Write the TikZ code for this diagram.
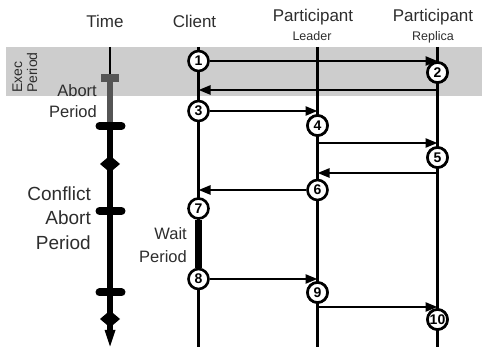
\documentclass[tikz,border=0pt]{standalone}
\usepackage{fontspec}
\setmainfont{Liberation Sans}
\usetikzlibrary{arrows.meta}
\definecolor{bandgray}{RGB}{205,205,205}
\definecolor{abortgray}{RGB}{85,85,85}
\definecolor{txt}{RGB}{45,45,45}
\tikzset{
  lbl/.style={inner sep=0pt, text=txt},
  hdr/.style={lbl, anchor=base, font=\fontsize{17}{20}\selectfont},
  sub/.style={lbl, anchor=base, font=\fontsize{12.5}{14}\selectfont},
  lifeline/.style={line width=2.6pt},
  msg/.style={line width=2.4pt, -{Triangle[length=12pt,width=9pt]}},
  evt/.style={circle, draw, line width=2.6pt, fill=white, minimum size=20pt,
              inner sep=0pt, font=\fontsize{14}{14}\selectfont\bfseries},
  tick/.style={line width=8pt, line cap=round},
}
\begin{document}
\begin{tikzpicture}[x=1pt,y=-1pt]
\useasboundingbox (0,0) rectangle (482,347);

% execution period band
\fill[bandgray] (6,47) rectangle (482,96.5);

% column headings
\node[hdr] (hTime) at (105,28) {Time};
\node[hdr] (hClient) at (194.5,28) {Client};
\node[hdr] (hLead) at (313,21.5) {Participant};
\node[sub] (hLeadSub) at (312,40.5) {Leader};
\node[hdr] (hRep) at (433,21.5) {Participant};
\node[sub] (hRepSub) at (433,41) {Replica};

% period labels
\node[lbl, rotate=90, anchor=base west, font=\fontsize{14}{16}\selectfont] (lExec) at (22,93) {Exec};
\node[lbl, rotate=90, anchor=base west, font=\fontsize{14}{16}\selectfont] (lExecP) at (37,93) {Period};
\node[lbl, anchor=base east, font=\fontsize{16.5}{20}\selectfont] (lAb1) at (97,96.5) {Abort};
\node[lbl, anchor=base east, font=\fontsize{16.5}{20}\selectfont] (lAb2) at (97,118) {Period};
\node[lbl, anchor=base east, font=\fontsize{19}{22}\selectfont] (lCf1) at (91,201) {Conflict};
\node[lbl, anchor=base east, font=\fontsize{19}{22}\selectfont] (lCf2) at (91,225) {Abort};
\node[lbl, anchor=base east, font=\fontsize{19}{22}\selectfont] (lCf3) at (91,250) {Period};
\node[lbl, anchor=base east, font=\fontsize{16.5}{20}\selectfont] (lW1) at (187,240) {Wait};
\node[lbl, anchor=base east, font=\fontsize{16.5}{20}\selectfont] (lW2) at (187,263) {Period};

% time axis
\draw[line width=2.4pt] (110,47) -- (110,75);
\draw[abortgray, line width=6.5pt] (110,80) -- (110,126);
\fill[abortgray] (101,74) rectangle (119,82);
\draw[line width=6.5pt] (110,126) -- (110,333);
\foreach \ty in {126,211,292.5} \draw[tick] (99.5,\ty) -- (121.5,\ty);
\foreach \dy in {164,319}
  \fill (100,\dy) -- (110,\dy-8.5) -- (120,\dy) -- (110,\dy+8.5) -- cycle;
\fill (104.5,330) -- (115.5,330) -- (110,346.5) -- cycle;

% lifelines
\coordinate (cTop) at (198.5,47);  \coordinate (cBot) at (198.5,347);
\coordinate (lTop) at (317.5,47);  \coordinate (lBot) at (317.5,347);
\coordinate (rTop) at (437.5,47);  \coordinate (rBot) at (437.5,347);
\draw[lifeline] (cTop) -- (cBot);
\draw[lifeline] (lTop) -- (lBot);
\draw[lifeline] (rTop) -- (rBot);

% events
\node[evt] (e1) at (198.5,61) {1};
\node[evt] (e2) at (437.5,72.5) {2};
\node[evt] (e3) at (198.5,111) {3};
\node[evt] (e4) at (317.5,125.5) {4};
\node[evt] (e5) at (437.5,157.5) {5};
\node[evt] (e6) at (317.5,190) {6};
\node[evt] (e7) at (198.5,208.5) {7};
\node[evt] (e8) at (198.5,279) {8};
\node[evt] (e9) at (317.5,292.5) {9};
\node[evt] (e10) at (437.5,319.5) {10};

% wait period on the client
\draw[line width=6.5pt] (e7.south) -- (e8.north);

% message endpoints on lifelines
\coordinate (r61) at (437.5,61);
\coordinate (r90) at (437.5,90);   \coordinate (c90) at (198.5,90);
\coordinate (l111) at (317.5,111);
\coordinate (l143) at (317.5,143); \coordinate (r143) at (437.5,143);
\coordinate (r173) at (437.5,173); \coordinate (l173) at (317.5,173);
\coordinate (c190) at (198.5,190);
\coordinate (l279) at (317.5,279);
\coordinate (l307) at (317.5,307); \coordinate (r307) at (437.5,307);

% messages
\draw[msg] (e1) -- (r61);
\draw[msg] (r90) -- (c90);
\draw[msg] (e3) -- (l111);
\draw[msg] (l143) -- (r143);
\draw[msg] (r173) -- (l173);
\draw[msg] (e6) -- (c190);
\draw[msg] (e8) -- (l279);
\draw[msg] (l307) -- (r307);

% receiving circles on top of the arrow tips
\node[evt] at (e2) {2};
\node[evt] at (e4) {4};
\node[evt] at (e5) {5};
\node[evt] at (e9) {9};
\node[evt] at (e10) {10};
\end{tikzpicture}
\end{document}
